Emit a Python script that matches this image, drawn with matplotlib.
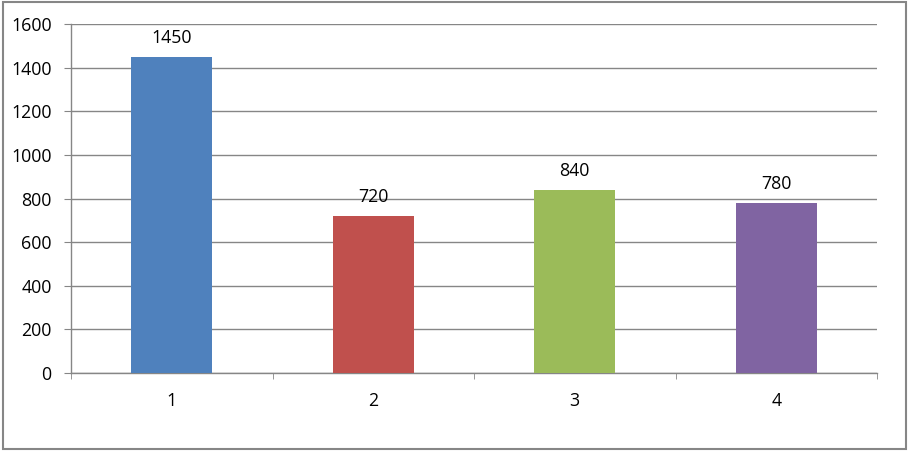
import matplotlib.pyplot as plt
from matplotlib.patches import Rectangle

# data
categories = ['1', '2', '3', '4']
values = [1450, 720, 840, 780]
colors = ['#4F81BD', '#C0504D', '#9BBB59', '#8064A2']

plt.rcParams['font.family'] = ['Open Sans', 'DejaVu Sans']
plt.rcParams['font.size'] = 12.8

grey = '#868686'

fig = plt.figure(figsize=(9.08, 4.51), dpi=100)
ax = fig.add_axes([71 / 908, 78 / 451, 806 / 908, 349 / 451])

pos = list(range(1, len(categories) + 1))
ax.bar(pos, values, width=0.4, color=colors, zorder=3)

for x, v in zip(pos, values):
    ax.annotate(str(v), (x, v), xytext=(0, 7), textcoords='offset points',
                ha='center', va='bottom', color='#000000')

ax.set_xlim(0.5, len(categories) + 0.5)
ax.set_ylim(0, 1600)
ax.set_yticks(range(0, 1601, 200))
ax.set_xticks(pos)
ax.set_xticklabels(categories)
ax.set_xticks([p + 0.5 for p in [0] + pos], minor=True)

ax.grid(axis='y', color=grey, linewidth=1, zorder=0)
for s in ['top', 'right']:
    ax.spines[s].set_visible(False)
for s in ['left', 'bottom']:
    ax.spines[s].set_color(grey)
    ax.spines[s].set_linewidth(1)

ax.tick_params(axis='y', length=5, color=grey, pad=9)
ax.tick_params(axis='x', which='major', length=0, pad=14)
ax.tick_params(axis='x', which='minor', length=4.5, color=grey)

# chart border
fig.patches.append(Rectangle((3 / 908, 2 / 451), 903 / 908, 447 / 451,
                             transform=fig.transFigure, fill=False,
                             edgecolor=grey, linewidth=1.5))

fig.savefig('out.png', dpi=100)
